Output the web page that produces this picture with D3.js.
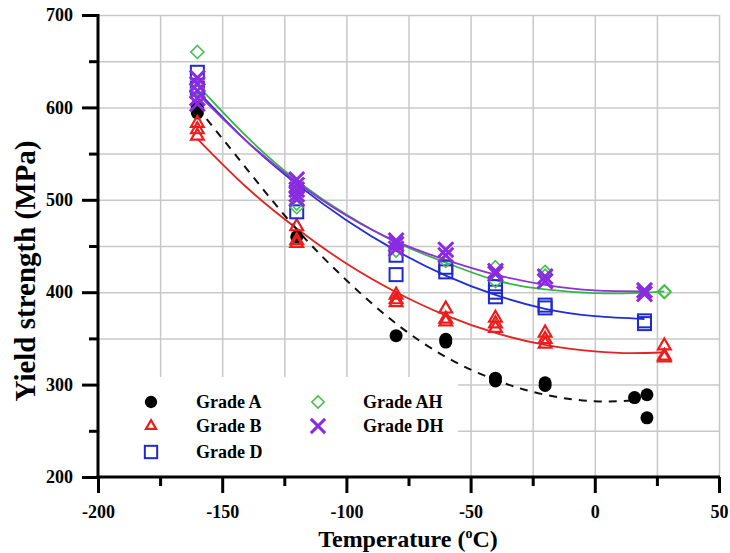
<!DOCTYPE html>
<html>
<head>
<meta charset="utf-8">
<script src="https://cdn.jsdelivr.net/npm/d3@7"></script>
<style>
  body { margin: 0; background: #fff; }
  text { font-family: "Liberation Serif", "Times New Roman", serif; font-weight: bold; }
</style>
</head>
<body>
<svg id="chart" width="730" height="553"></svg>
<script>
"use strict";

// measured points, [temperature, yield strength]
const gradeA = [[-160, 600], [-160, 594], [-120, 460], [-80, 353], [-60, 349], [-60, 346],
    [-40, 307], [-40, 304], [-20, 302], [-20, 299], [16, 286], [21, 289], [21, 264]];
const gradeB = [[-160, 583], [-160, 576], [-160, 569], [-120, 471], [-120, 456], [-120, 453],
    [-80, 397], [-80, 392], [-80, 389], [-60, 382], [-60, 371], [-60, 368],
    [-40, 372], [-40, 366], [-40, 361], [-20, 356], [-20, 349], [-20, 344],
    [28, 342], [28, 331], [28, 329]];
const gradeD = [[-160, 638], [-160, 621], [-120, 487], [-80, 440], [-80, 419], [-60, 427], [-60, 422],
    [-40, 406], [-40, 400], [-40, 395], [-20, 386], [-20, 383], [20, 369], [20, 366]];
const gradeAH = [[-160, 660], [-160, 625], [-160, 620], [-120, 496], [-120, 492], [-80, 445],
    [-60, 434], [-40, 427], [-40, 412], [-20, 422], [-20, 418], [28, 401], [28, 400]];
const gradeDH = [[-160, 632], [-160, 625], [-160, 618], [-160, 610], [-160, 604],
    [-120, 522], [-120, 516], [-120, 511], [-120, 506], [-120, 501],
    [-80, 456], [-80, 452], [-80, 447], [-60, 446], [-60, 440], [-40, 423], [-40, 420],
    [-20, 417], [-20, 412], [20, 402], [20, 398]];

// fitted trend curves
const fitA = [[-160, 600], [-140, 533], [-120, 468], [-100, 413], [-80, 366], [-60, 330],
    [-40, 305], [-20, 289], [0, 282], [16, 283]];
const fitB = [[-160, 566], [-140, 513], [-120, 469], [-100, 431], [-80, 400], [-60, 375],
    [-40, 356], [-20, 343], [0, 336], [15, 334], [28, 335]];
const fitD = [[-160, 618], [-140, 563], [-120, 517], [-100, 478], [-80, 445], [-60, 418],
    [-40, 397], [-20, 382], [0, 374], [20, 371]];
const fitAH = [[-160, 624], [-140, 568], [-120, 521], [-100, 484], [-80, 454], [-60, 432],
    [-40, 413], [-20, 403], [0, 399], [15, 399], [28, 401]];
const fitDH = [[-160, 615], [-140, 563], [-120, 519], [-100, 483], [-80, 455], [-60, 435],
    [-40, 419], [-20, 408], [0, 402], [20, 401]];

const xMajor = [-200, -150, -100, -50, 0, 50];
const xMinor = [-175, -125, -75, -25, 25];
const yMajor = [200, 300, 400, 500, 600, 700];
const yMinor = [250, 350, 450, 550, 650];

const svg = d3.select("#chart");
const x = d3.scaleLinear().domain([-200, 50]).range([98, 719]);
const y = d3.scaleLinear().domain([200, 700]).range([477, 15]);

// grid
svg.append("g")
    .attr("transform", "translate(0,477)")
    .call(d3.axisBottom(x).tickValues(xMajor.concat(xMinor).filter(d => d > -200)).tickSize(-462).tickFormat(""))
    .call(g => g.select(".domain").remove())
    .selectAll("line").attr("stroke", "#c8c8c8").attr("stroke-width", 1.5);
svg.append("g")
    .attr("transform", "translate(98,0)")
    .call(d3.axisLeft(y).tickValues(yMajor.concat(yMinor).filter(d => d > 200)).tickSize(-621).tickFormat(""))
    .call(g => g.select(".domain").remove())
    .selectAll("line").attr("stroke", "#c8c8c8").attr("stroke-width", 1.5);

// legend background hides the grid behind it
svg.append("rect")
    .attr("x", 100).attr("y", 377).attr("width", 358).attr("height", 99)
    .attr("fill", "#fff");

// curves
const line = d3.line().x(d => x(d[0])).y(d => y(d[1])).curve(d3.curveNatural);
const curves = [
    { data: fitB, color: "#e32222", dash: null },
    { data: fitD, color: "#2030d0", dash: null },
    { data: fitAH, color: "#35b545", dash: null },
    { data: fitDH, color: "#9030d8", dash: null },
    { data: fitA, color: "#111", dash: "8,7" }
];
curves.forEach(c => {
    svg.append("path")
        .attr("d", line(c.data))
        .attr("fill", "none")
        .attr("stroke", c.color)
        .attr("stroke-width", c.dash ? 2 : 1.8)
        .attr("stroke-dasharray", c.dash);
});

// marker shapes
function drawMarker(g, kind, size) {
    const s = size || 1;
    if (kind === "A") {
        g.append("circle").attr("r", 6.5 * s).attr("fill", "#000");
    } else if (kind === "B") {
        g.append("path").attr("d", d3.symbol(d3.symbolTriangle, 70 * s * s)())
            .attr("fill", "none").attr("stroke", "#ee1c1c").attr("stroke-width", 2.2);
    } else if (kind === "D") {
        g.append("rect").attr("x", -6.5 * s).attr("y", -6.5 * s)
            .attr("width", 13 * s).attr("height", 13 * s)
            .attr("fill", "none").attr("stroke", "#1e2ad0").attr("stroke-width", 2);
    } else if (kind === "AH") {
        const r = 6.5 * s;
        g.append("path").attr("d", `M0,${-r}L${r},0L0,${r}L${-r},0Z`)
            .attr("fill", "none").attr("stroke", "#45c050").attr("stroke-width", 1.6);
    } else {
        const r = 7.5 * s;
        g.append("path").attr("d", `M${-r},${-r}L${r},${r}M${-r},${r}L${r},${-r}`)
            .attr("fill", "none").attr("stroke", "#8a2be2").attr("stroke-width", 3);
    }
}

const series = [
    { kind: "A", data: gradeA, label: "Grade A" },
    { kind: "B", data: gradeB, label: "Grade B" },
    { kind: "D", data: gradeD, label: "Grade D" },
    { kind: "AH", data: gradeAH, label: "Grade AH" },
    { kind: "DH", data: gradeDH, label: "Grade DH" }
];
series.forEach(s => {
    svg.append("g").selectAll("g")
        .data(s.data)
        .enter().append("g")
            .attr("transform", d => `translate(${x(d[0])},${y(d[1])})`)
            .each(function() { drawMarker(d3.select(this), s.kind); });
});

// axes
const axisStyle = g => {
    g.select(".domain").remove();
    g.selectAll("line").attr("stroke", "#000").attr("stroke-width", 3);
    g.selectAll("text").attr("fill", "#000").style("font-size", "18px");
};
svg.append("g").attr("transform", "translate(0,477)")
    .call(d3.axisBottom(x).tickValues(xMinor).tickSize(9).tickFormat(""))
    .call(axisStyle);
svg.append("g").attr("transform", "translate(0,477)")
    .call(d3.axisBottom(x).tickValues(xMajor).tickSize(16).tickPadding(12).tickFormat(d3.format("d")))
    .call(axisStyle)
    .selectAll("text").text(d => d < 0 ? "-" + Math.abs(d) : d);
svg.append("g").attr("transform", "translate(98,0)")
    .call(d3.axisLeft(y).tickValues(yMinor).tickSize(9).tickFormat(""))
    .call(axisStyle);
svg.append("g").attr("transform", "translate(98,0)")
    .call(d3.axisLeft(y).tickValues(yMajor).tickSize(16).tickPadding(9))
    .call(axisStyle);
svg.append("line").attr("x1", 98).attr("x2", 98).attr("y1", 14).attr("y2", 478.5)
    .attr("stroke", "#000").attr("stroke-width", 3);
svg.append("line").attr("x1", 96.5).attr("x2", 720).attr("y1", 477).attr("y2", 477)
    .attr("stroke", "#000").attr("stroke-width", 3);

// axis titles
const xt = svg.append("text")
    .attr("x", 408).attr("y", 547)
    .attr("text-anchor", "middle")
    .style("font-size", "24px");
xt.append("tspan").text("Temperature (");
xt.append("tspan").attr("dy", -9).style("font-size", "14px").text("o");
xt.append("tspan").attr("dy", 9).text("C)");

svg.append("text")
    .attr("transform", "translate(35,271) rotate(-90)")
    .attr("text-anchor", "middle")
    .style("font-size", "29px")
    .text("Yield strength (MPa)");

// legend
const legendPos = [[151, 402], [151, 426], [151, 452], [318, 402], [318, 426]];
series.forEach((s, i) => {
    const p = legendPos[i];
    const g = svg.append("g").attr("transform", `translate(${p[0]},${p[1]})`);
    drawMarker(g, s.kind, s.kind === "B" ? 0.8 : 0.95);
    g.append("text")
        .attr("x", 45).attr("y", 6)
        .style("font-size", "18px")
        .text(s.label);
});
</script>
</body>
</html>
